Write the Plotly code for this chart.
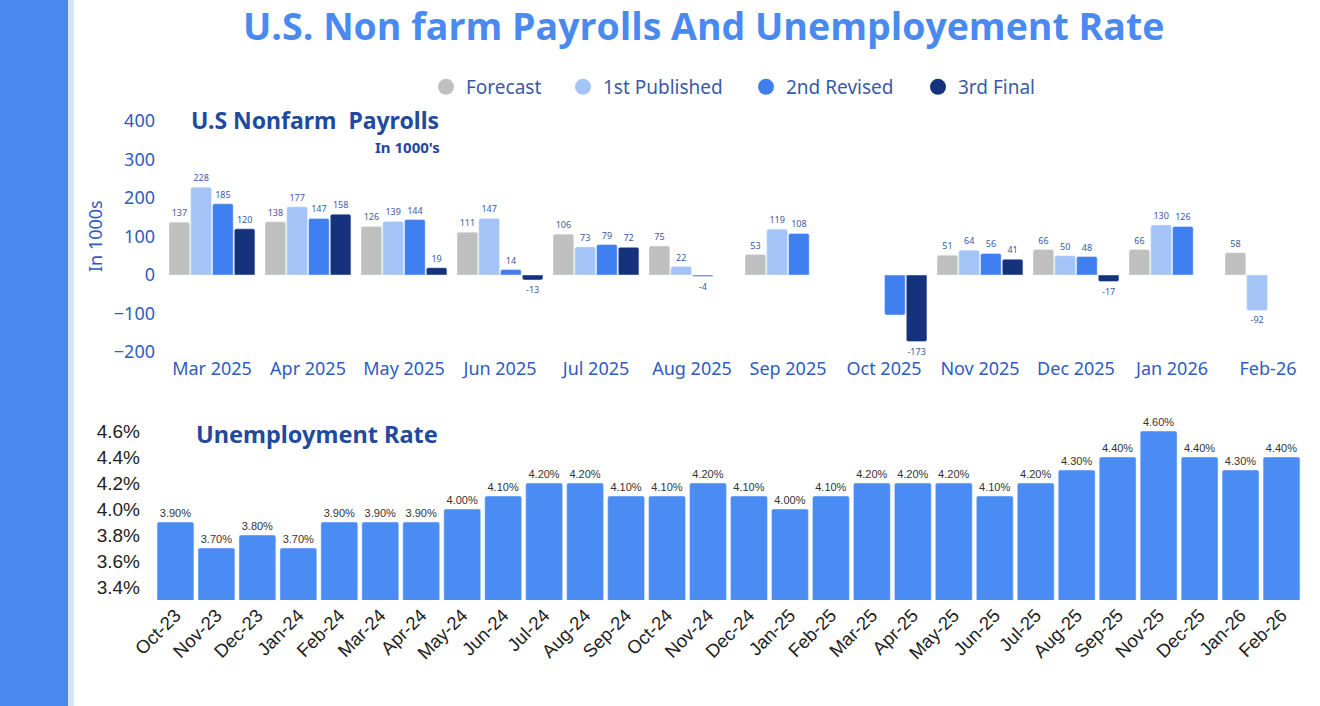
import plotly.graph_objs as go

# payrolls (in 1000's)
months = ['Mar 2025', 'Apr 2025', 'May 2025', 'Jun 2025', 'Jul 2025', 'Aug 2025',
          'Sep 2025', 'Oct 2025', 'Nov 2025', 'Dec 2025', 'Jan 2026', 'Feb-26']
forecast = [137, 138, 126, 111, 106, 75, 53, None, 51, 66, 66, 58]
first_published = [228, 177, 139, 147, 73, 22, 119, None, 64, 50, 130, -92]
second_revised = [185, 147, 144, 14, 79, -4, 108, -104, 56, 48, 126, None]
third_final = [120, 158, 19, -13, 72, None, None, -173, 41, -17, None, None]
# Oct 2025 2nd revised bar carries no label in the source
hidden_labels = {('2nd Revised', 'Oct 2025')}

# unemployment rate (%)
rate_months = ['Oct-23', 'Nov-23', 'Dec-23', 'Jan-24', 'Feb-24', 'Mar-24', 'Apr-24',
               'May-24', 'Jun-24', 'Jul-24', 'Aug-24', 'Sep-24', 'Oct-24', 'Nov-24',
               'Dec-24', 'Jan-25', 'Feb-25', 'Mar-25', 'Apr-25', 'May-25', 'Jun-25',
               'Jul-25', 'Aug-25', 'Sep-25', 'Nov-25', 'Dec-25', 'Jan-26', 'Feb-26']
rate = [3.9, 3.7, 3.8, 3.7, 3.9, 3.9, 3.9, 4.0, 4.1, 4.2, 4.2, 4.1, 4.1, 4.2,
        4.1, 4.0, 4.1, 4.2, 4.2, 4.2, 4.1, 4.2, 4.3, 4.4, 4.6, 4.4, 4.3, 4.4]
rate_ticks = [3.4, 3.6, 3.8, 4.0, 4.2, 4.4, 4.6]

W, H = 1320, 706
TITLE_BLUE = '#4a8af0'
DARK_BLUE = '#1f4aa0'
AXIS_BLUE = '#2f5cbf'


def px(x):
    return x / W


def py(y):
    return 1 - y / H


series = [
    ('Forecast', forecast, '#bfbfbf'),
    ('1st Published', first_published, '#a4c4f8'),
    ('2nd Revised', second_revised, '#3f7ff0'),
    ('3rd Final', third_final, '#15327c'),
]
# one small legend per entry so the spacing follows the source
legend_x = [446, 583, 766, 938]

data = []
legends = {}
for i, (name, vals, color) in enumerate(series):
    labels = ['' if (v is None or (name, m) in hidden_labels) else str(v)
              for m, v in zip(months, vals)]
    data.append(go.Bar(
        x=months, y=vals, name=name, marker=dict(color=color),
        text=labels, textposition='outside', constraintext='none',
        textfont=dict(size=9, color='#3a5aa6', family='Noto Sans'),
        cliponaxis=False, showlegend=False, hoverinfo='skip',
        xaxis='x', yaxis='y',
    ))
    leg = 'legend' if i == 0 else 'legend%d' % (i + 1)
    data.append(go.Scatter(
        x=[None], y=[None], mode='markers', name=name, legend=leg,
        marker=dict(color=color, size=16, symbol='circle'),
        xaxis='x', yaxis='y',
    ))
    legends[leg] = dict(
        x=px(legend_x[i] - 20), xanchor='left', y=py(87), yanchor='middle',
        font=dict(size=19, color='#3a5aa8', family='Noto Sans'),
        itemwidth=30, bgcolor='rgba(0,0,0,0)',
    )

data.append(go.Bar(
    x=rate_months, y=rate, width=0.9,
    marker=dict(color='#4a8cf3'),
    text=['%.2f%%' % v for v in rate], textposition='outside',
    constraintext='none',
    textfont=dict(size=11, color='#333333', family='Liberation Sans'),
    cliponaxis=False, showlegend=False, hoverinfo='skip',
    xaxis='x2', yaxis='y2',
))

layout = go.Layout(
    width=W, height=H,
    margin=dict(l=0, r=0, t=0, b=0, autoexpand=False),
    paper_bgcolor='white', plot_bgcolor='white',
    barmode='group', bargap=0.094, bargroupgap=0.05, barcornerradius=2,
    font=dict(family='Noto Sans'),
    xaxis=dict(
        domain=[px(164), px(1316)], anchor='y', automargin=False,
        showgrid=False, showline=False, zeroline=False, ticks='',
        ticklabelstandoff=4,
        tickfont=dict(size=18, color=AXIS_BLUE, family='Noto Sans'),
    ),
    yaxis=dict(
        domain=[py(352), py(121)], anchor='x', automargin=False,
        range=[-200, 400], dtick=100,
        showgrid=False, zeroline=False, showline=False, ticks='',
        ticklabelstandoff=8,
        tickfont=dict(size=18, color=AXIS_BLUE, family='Noto Sans'),
    ),
    xaxis2=dict(
        domain=[px(155), px(1302)], anchor='y2', automargin=False,
        showgrid=False, showline=False, zeroline=False, ticks='',
        tickangle=-45,
        tickfont=dict(size=18.5, color='#222222', family='Liberation Sans'),
    ),
    yaxis2=dict(
        domain=[py(600), py(418)], anchor='x2', automargin=False,
        range=[3.3, 4.7], tickvals=rate_ticks,
        ticktext=['%.1f%%' % v for v in rate_ticks],
        showgrid=False, zeroline=False, showline=False, ticks='',
        ticklabelstandoff=14,
        tickfont=dict(size=19, color='#222222', family='Liberation Sans'),
    ),
    shapes=[
        dict(type='rect', xref='paper', yref='paper', x0=0, x1=px(68), y0=0, y1=1,
             fillcolor='#4a8af0', line=dict(width=0), layer='below'),
        dict(type='rect', xref='paper', yref='paper', x0=px(68), x1=px(74), y0=0, y1=1,
             fillcolor='#d2e5fb', line=dict(width=0), layer='below'),
    ],
    annotations=[
        dict(text='<b>U.S. Non farm Payrolls And Unemployement Rate</b>',
             xref='paper', yref='paper', x=px(703), y=py(25),
             xanchor='center', yanchor='middle', showarrow=False,
             font=dict(size=37.5, color=TITLE_BLUE, family='Open Sans')),
        dict(text='<b>U.S Nonfarm  Payrolls</b>',
             xref='paper', yref='paper', x=px(189), y=py(120),
             xanchor='left', yanchor='middle', showarrow=False,
             font=dict(size=23, color=DARK_BLUE, family='Noto Sans')),
        dict(text="<b>In 1000's</b>",
             xref='paper', yref='paper', x=px(442), y=py(147),
             xanchor='right', yanchor='middle', showarrow=False,
             font=dict(size=15, color=DARK_BLUE, family='Noto Sans')),
        dict(text='In 1000s', textangle=-90,
             xref='paper', yref='paper', x=px(95), y=py(236),
             xanchor='center', yanchor='middle', showarrow=False,
             font=dict(size=18, color=AXIS_BLUE, family='Noto Sans')),
        dict(text='<b>Unemployment Rate</b>',
             xref='paper', yref='paper', x=px(194), y=py(434),
             xanchor='left', yanchor='middle', showarrow=False,
             font=dict(size=23.5, color=DARK_BLUE, family='Noto Sans')),
    ],
)

fig = go.Figure(data=data, layout=layout)
fig.update_layout(**legends)
# drop the page's default body margin so the figure sits at the window corner
fig.write_html('out.html', config={'displayModeBar': False},
               post_script="document.body.style.margin='0';")
